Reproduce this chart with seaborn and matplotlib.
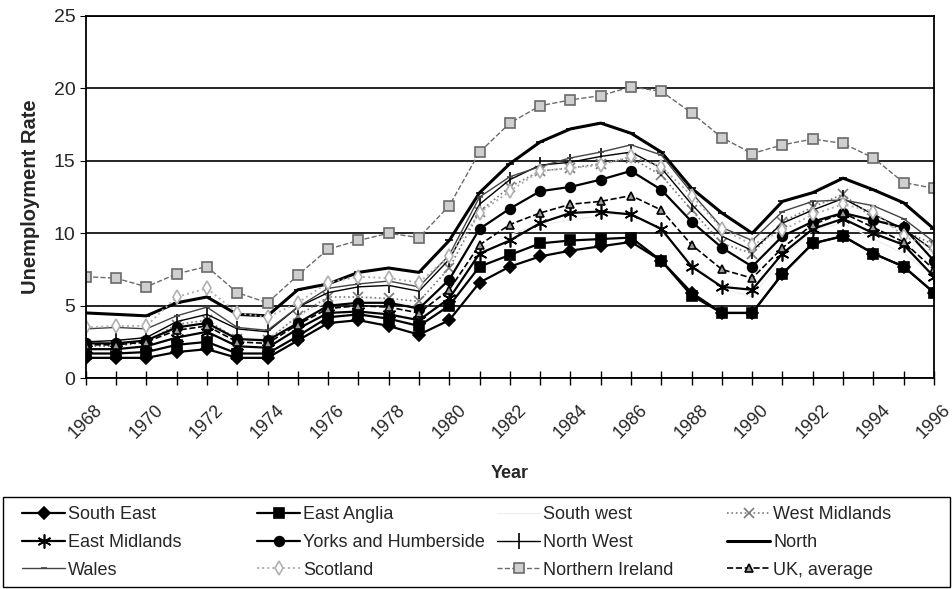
import numpy as np
import pandas as pd
import seaborn as sns
import matplotlib
matplotlib.use("Agg")
from matplotlib import pyplot as plt
from matplotlib.patches import Rectangle
from matplotlib.ticker import MultipleLocator

years = list(range(1968, 1997))

south_east = [1.4, 1.4, 1.4, 1.8, 2.0, 1.4, 1.4, 2.6, 3.8, 4.0, 3.6, 3.0, 4.0, 6.6, 7.7, 8.4, 8.8, 9.1, 9.4, 8.1, 5.9, 4.5, 4.5, 7.2, 9.3, 9.8, 8.6, 7.7, 5.9]
east_anglia = [1.7, 1.7, 1.8, 2.3, 2.5, 1.7, 1.7, 2.9, 4.2, 4.4, 4.1, 3.6, 5.0, 7.7, 8.5, 9.3, 9.5, 9.6, 9.7, 8.1, 5.7, 4.5, 4.5, 7.2, 9.3, 9.8, 8.6, 7.7, 5.9]
south_west = [2.6, 2.6, 2.8, 3.6, 3.8, 2.8, 2.7, 4.2, 5.3, 5.6, 5.4, 4.9, 6.1, 8.9, 9.9, 10.6, 10.9, 11.2, 11.4, 10.1, 8.0, 6.2, 5.6, 8.3, 10.2, 10.7, 9.6, 8.6, 7.1]
west_midlands = [2.2, 2.2, 2.5, 3.7, 4.0, 2.7, 2.6, 4.3, 5.6, 5.6, 5.5, 5.3, 7.6, 11.5, 13.2, 14.3, 14.5, 14.8, 15.2, 14.0, 11.6, 9.3, 8.6, 10.8, 11.8, 12.7, 11.0, 10.2, 9.2]
east_midlands = [2.0, 2.0, 2.2, 2.8, 3.2, 2.2, 2.1, 3.4, 4.5, 4.6, 4.4, 4.0, 5.5, 8.6, 9.5, 10.7, 11.4, 11.5, 11.3, 10.3, 7.7, 6.3, 6.1, 8.6, 10.3, 11.0, 10.0, 9.2, 7.0]
yorks = [2.4, 2.4, 2.6, 3.5, 3.8, 2.7, 2.6, 3.8, 5.0, 5.2, 5.2, 4.8, 6.8, 10.3, 11.7, 12.9, 13.2, 13.7, 14.3, 13.0, 10.8, 9.0, 7.7, 9.8, 10.8, 11.4, 10.9, 10.4, 8.1]
north_west = [2.5, 2.6, 2.8, 3.9, 4.4, 3.4, 3.2, 4.9, 5.9, 6.3, 6.4, 6.0, 8.2, 12.0, 13.7, 14.7, 14.9, 15.3, 15.6, 14.5, 12.0, 9.8, 8.8, 10.7, 11.6, 12.4, 11.3, 10.3, 8.8]
north = [4.5, 4.4, 4.3, 5.2, 5.6, 4.4, 4.3, 6.1, 6.5, 7.3, 7.6, 7.3, 9.5, 12.8, 14.8, 16.3, 17.2, 17.6, 16.9, 15.6, 13.1, 11.4, 10.0, 12.2, 12.8, 13.8, 13.0, 12.1, 10.3]
wales = [3.4, 3.5, 3.4, 4.3, 4.9, 3.5, 3.3, 4.9, 6.2, 6.5, 6.7, 6.3, 8.5, 12.5, 13.9, 14.6, 15.2, 15.6, 16.1, 15.4, 12.8, 10.4, 9.5, 11.5, 12.2, 12.3, 11.9, 11.0, 9.4]
scotland = [3.5, 3.6, 3.6, 5.6, 6.2, 4.5, 4.2, 5.2, 6.6, 7.0, 6.9, 6.6, 8.4, 11.4, 12.9, 14.3, 14.5, 14.7, 15.3, 14.6, 12.6, 10.3, 9.2, 10.2, 11.3, 12.0, 11.5, 9.8, 9.0]
northern_ireland = [7.0, 6.9, 6.3, 7.2, 7.7, 5.9, 5.2, 7.1, 8.9, 9.5, 10.0, 9.7, 11.9, 15.6, 17.6, 18.8, 19.2, 19.5, 20.1, 19.8, 18.3, 16.6, 15.5, 16.1, 16.5, 16.2, 15.2, 13.5, 13.1]
uk_average = [2.3, 2.3, 2.5, 3.3, 3.6, 2.5, 2.4, 3.7, 4.8, 5.0, 4.9, 4.5, 6.1, 9.2, 10.6, 11.4, 12.0, 12.2, 12.6, 11.6, 9.2, 7.5, 6.9, 9.0, 10.6, 11.4, 10.4, 9.4, 7.5]

# label, values, colour, linestyle, linewidth, marker, markersize, marker face
series = [
    ("South East", south_east, "black", "-", 1.6, "D", 6, "black"),
    ("East Anglia", east_anglia, "black", "-", 1.6, "s", 7, "black"),
    ("South west", south_west, "#ededed", "-", 0.8, None, 0, "#ededed"),
    ("West Midlands", west_midlands, "#7a7a7a", ":", 1.2, "x", 7, "#7a7a7a"),
    ("East Midlands", east_midlands, "black", "-", 1.6, (6, 2, 0), 10, "black"),
    ("Yorks and Humberside", yorks, "black", "-", 1.6, "o", 7, "black"),
    ("North West", north_west, "black", "-", 1.0, "|", 11, "black"),
    ("North", north, "black", "-", 2.2, "_", 6, "black"),
    ("Wales", wales, "#444444", "-", 1.0, "_", 5, "#444444"),
    ("Scotland", scotland, "#b0b0b0", ":", 1.4, "d", 7, "white"),
    ("Northern Ireland", northern_ireland, "#6a6a6a", "--", 1.0, "s", 7, "#cfcfcf"),
    ("UK, average", uk_average, "black", "--", 1.2, "^", 6, "#9a9a9a"),
]

sns.set_style("white")
plt.rcParams["font.family"] = ["Liberation Sans", "DejaVu Sans"]

fig = plt.figure(figsize=(9.53, 5.89), dpi=100)
ax = fig.add_axes([0.090, 0.358, 0.890, 0.615])

for label, vals, color, ls, lw, marker, ms, face in series:
    sns.lineplot(x=years, y=vals, ax=ax, color=color, linestyle=ls, linewidth=lw,
                 marker=marker, markersize=ms, markerfacecolor=face,
                 markeredgecolor=color, markeredgewidth=1.2, label=label)
h, l = ax.get_legend_handles_labels()
handles = dict(zip(l, h))
ax.get_legend().remove()

ax.set_xlim(1968, 1996)
ax.set_ylim(0, 25)
ax.yaxis.set_major_locator(MultipleLocator(5))
ax.xaxis.set_major_locator(MultipleLocator(2))
ax.xaxis.set_minor_locator(MultipleLocator(1))
ax.grid(axis="y", color="black", linewidth=1.2)
ax.set_axisbelow(True)
for s in ax.spines.values():
    s.set_color("black")
    s.set_linewidth(1.3)
ax.tick_params(axis="x", which="both", direction="inout", length=10, width=1, bottom=True, color="black")
ax.tick_params(axis="x", labelsize=13, pad=12)
ax.tick_params(axis="y", direction="out", length=4, left=True, color="black", labelsize=14)
for t in ax.get_xticklabels():
    t.set_rotation(45)
    t.set_ha("center")
ax.set_ylabel("Unemployment Rate", fontsize=14.5, fontweight="bold", labelpad=10)
ax.set_xlabel("Year", fontsize=13, fontweight="bold", labelpad=16)

# legend: four equal columns inside one frame, filled row by row
columns = [["South East", "East Midlands", "Wales"],
           ["East Anglia", "Yorks and Humberside", "Scotland"],
           ["South west", "North West", "Northern Ireland"],
           ["West Midlands", "North", "UK, average"]]
col_x = [22, 257, 497, 727]
for names, x0 in zip(columns, col_x):
    fig.legend([handles[k] for k in names], names, loc="upper left",
               bbox_to_anchor=(x0 / 953, 1 - 506 / 589), frameon=False,
               handlelength=2.4, handletextpad=0.15, borderpad=0, borderaxespad=0,
               labelspacing=0.6, prop={"size": 13})
fig.patches.append(Rectangle((3 / 953, 2 / 589), 947 / 953, 90 / 589,
                             transform=fig.transFigure, fill=False,
                             edgecolor="black", linewidth=1.0))

fig.savefig("out.png", dpi=100)
